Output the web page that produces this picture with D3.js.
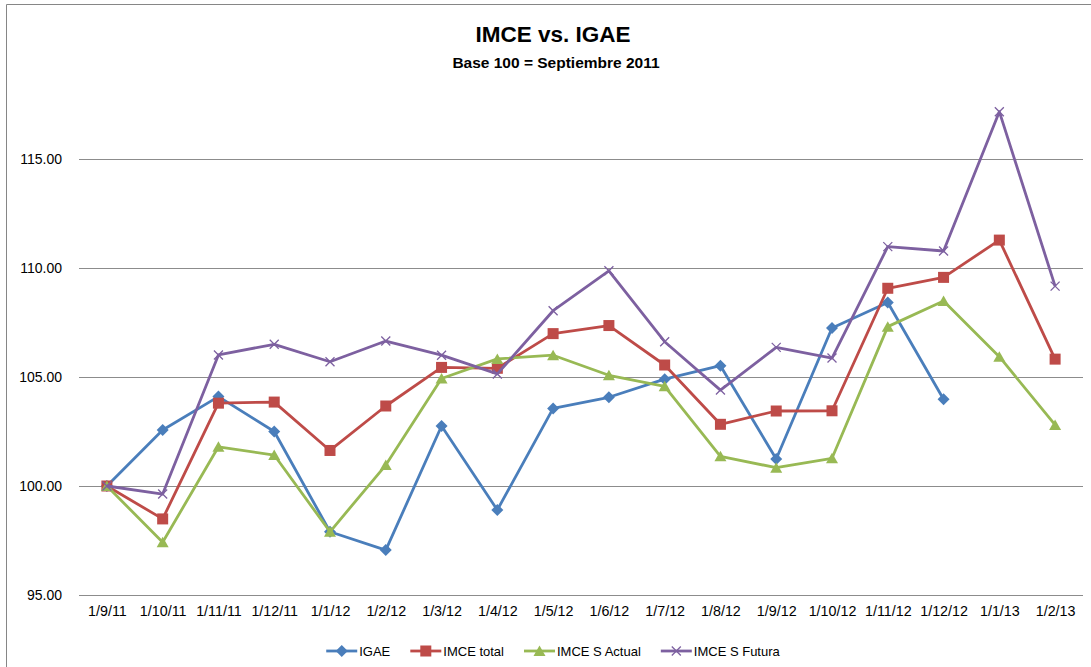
<!DOCTYPE html>
<html lang="es">
<head>
<meta charset="UTF-8">
<title>IMCE vs. IGAE</title>
<script src="https://d3js.org/d3.v7.min.js"></script>
<style>
  body { margin: 0; background: #fff; }
  text { font-family: "Liberation Sans", Arial, sans-serif; fill: #000; }
  .grid line { stroke: #8c8c8c; stroke-width: 1px; shape-rendering: crispEdges; }
</style>
</head>
<body>
<svg width="1091" height="667"></svg>
<script>
// datos
var fechas = ["1/9/11", "1/10/11", "1/11/11", "1/12/11", "1/1/12", "1/2/12", "1/3/12", "1/4/12", "1/5/12",
              "1/6/12", "1/7/12", "1/8/12", "1/9/12", "1/10/12", "1/11/12", "1/12/12", "1/1/13", "1/2/13"];

var igae       = [100.00, 102.57, 104.10, 102.50, 97.90, 97.06, 102.75, 98.90, 103.56,
                  104.07, 104.90, 105.52, 101.24, 107.25, 108.42, 103.98, null, null];
var imceTotal  = [100.00, 98.49, 103.80, 103.85, 101.63, 103.67, 105.44, 105.40, 106.99,
                  107.36, 105.55, 102.83, 103.44, 103.45, 109.07, 109.57, 111.28, 105.82];
var imceActual = [100.00, 97.42, 101.80, 101.42, 97.90, 100.96, 104.93, 105.83, 106.00,
                  105.08, 104.57, 101.36, 100.84, 101.27, 107.31, 108.49, 105.93, 102.80];
var imceFutura = [100.00, 99.63, 106.01, 106.50, 105.70, 106.65, 106.00, 105.14, 108.04,
                  109.87, 106.62, 104.40, 106.36, 105.87, 110.98, 110.78, 117.17, 109.17];

var yTicks = [95, 100, 105, 110, 115];

var series = [
    { nombre: "IGAE",          valores: igae,       color: "#4A7EBB", marca: "diamante" },
    { nombre: "IMCE total",    valores: imceTotal,  color: "#BE4B48", marca: "cuadro" },
    { nombre: "IMCE S Actual", valores: imceActual, color: "#98B954", marca: "triangulo" },
    { nombre: "IMCE S Futura", valores: imceFutura, color: "#7D60A0", marca: "equis" }
];

var svg = d3.select("svg");

// marco exterior
svg.append("line").attr("x1", 6.5).attr("y1", 4.5).attr("x2", 6.5).attr("y2", 667)
    .style("stroke", "#868686");
svg.append("line").attr("x1", 6.5).attr("y1", 4.5).attr("x2", 1091).attr("y2", 4.5)
    .style("stroke", "#868686");

var x = d3.scalePoint().domain(fechas).range([79, 1083]).padding(0.5);
var y = d3.scaleLinear().domain([95, 120]).range([595, 50]);

// titulos
svg.append("text").attr("x", 553).attr("y", 42).attr("text-anchor", "middle")
    .style("font-size", "22.5px").style("font-weight", "bold").text("IMCE vs. IGAE");
svg.append("text").attr("x", 556).attr("y", 68).attr("text-anchor", "middle")
    .style("font-size", "15.5px").style("font-weight", "bold").text("Base 100 = Septiembre 2011");

// lineas de cuadricula
svg.append("g").attr("class", "grid")
    .selectAll("line")
    .data(yTicks)
    .enter().append("line")
    .attr("x1", 79).attr("x2", 1083)
    .attr("y1", function(d) { return Math.round(y(d)) + 0.5; })
    .attr("y2", function(d) { return Math.round(y(d)) + 0.5; });

// eje y
var yAxis = d3.axisLeft(y).tickValues(yTicks).tickSize(0).tickPadding(0)
    .tickFormat(d3.format(".2f"));
var gy = svg.append("g").attr("transform", "translate(62,0)").call(yAxis);
gy.select(".domain").remove();
gy.selectAll("text").style("font-size", "14px").style("font-family", "Liberation Sans, Arial, sans-serif")
    .attr("fill", "#000");

// eje x
var xAxis = d3.axisBottom(x).tickSize(0).tickPadding(0);
var gx = svg.append("g").attr("transform", "translate(0,606)").call(xAxis);
gx.select(".domain").remove();
gx.selectAll("text").style("font-size", "14.3px").style("font-family", "Liberation Sans, Arial, sans-serif")
    .attr("fill", "#000");

function dibujarMarca(g, tipo, color) {
    if (tipo === "diamante") {
        g.append("path").attr("d", "M0,-6L6,0L0,6L-6,0Z").attr("fill", color);
    } else if (tipo === "cuadro") {
        g.append("rect").attr("x", -5.5).attr("y", -5.5).attr("width", 11).attr("height", 11).attr("fill", color);
    } else if (tipo === "triangulo") {
        g.append("path").attr("d", "M0,-5.5L6,5L-6,5Z").attr("fill", color);
    } else {
        g.append("path").attr("d", "M-4.5,-4.5L4.5,4.5M-4.5,4.5L4.5,-4.5")
            .attr("stroke", color).attr("stroke-width", 1.3).attr("fill", "none");
    }
}

var linea = d3.line()
    .defined(function(d) { return d != null; })
    .x(function(d, i) { return x(fechas[i]); })
    .y(function(d) { return y(d); });

series.forEach(function(s) {
    var g = svg.append("g");
    g.append("path")
        .attr("d", linea(s.valores))
        .attr("fill", "none")
        .attr("stroke", s.color)
        .attr("stroke-width", 2.8)
        .attr("stroke-linejoin", "round");

    s.valores.forEach(function(v, i) {
        if (v == null) return;
        var m = g.append("g").attr("transform", "translate(" + x(fechas[i]) + "," + y(v) + ")");
        dibujarMarca(m, s.marca, s.color);
    });
});

// leyenda
var leyenda = svg.append("g").attr("transform", "translate(0,651)");
var items = leyenda.selectAll("g").data(series).enter().append("g");
items.append("line").attr("x1", 0).attr("x2", 31).attr("y1", 0).attr("y2", 0)
    .attr("stroke", function(d) { return d.color; }).attr("stroke-width", 2.8);
items.each(function(d) {
    var m = d3.select(this).append("g").attr("transform", "translate(15.5,0)");
    dibujarMarca(m, d.marca, d.color);
});
items.append("text").attr("x", 33).attr("y", 4.5).style("font-size", "13px")
    .text(function(d) { return d.nombre; });

var pos = 0, anchos = [];
items.each(function() {
    var w = 33 + d3.select(this).select("text").node().getComputedTextLength();
    anchos.push(w);
});
var total = d3.sum(anchos) + 20 * (anchos.length - 1);
pos = 553 - total / 2;
items.attr("transform", function(d, i) {
    var t = "translate(" + pos + ",0)";
    pos += anchos[i] + 20;
    return t;
});
</script>
</body>
</html>
